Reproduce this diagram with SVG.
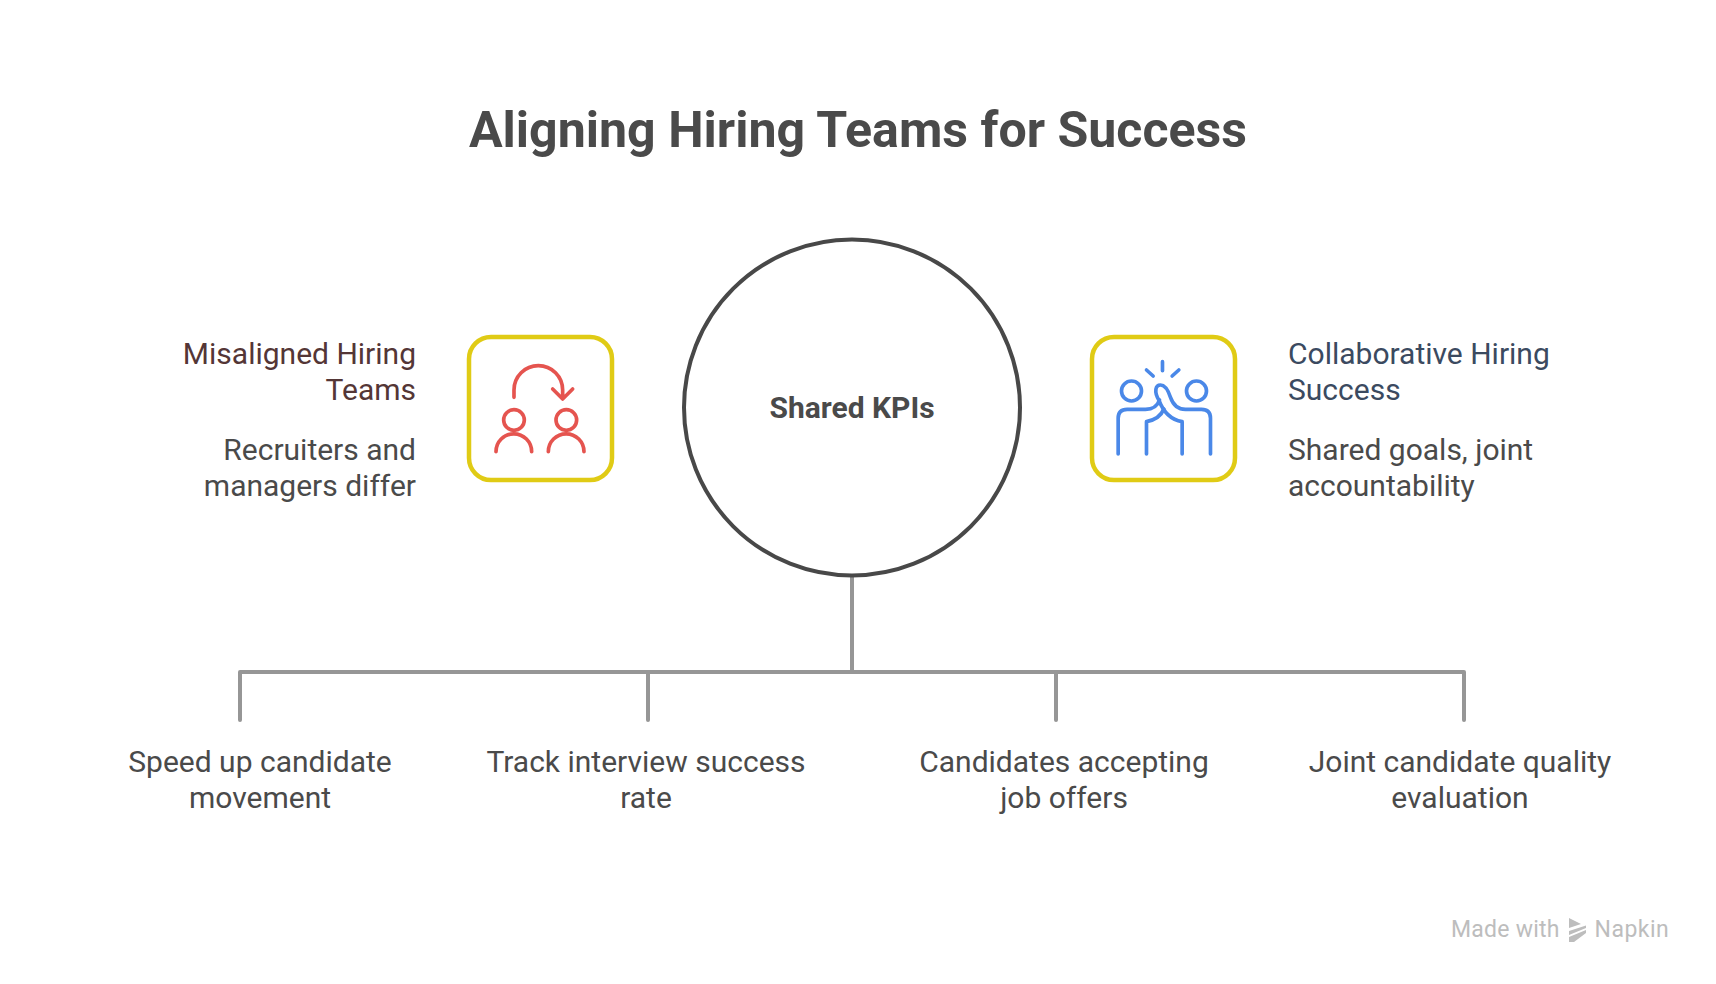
<svg xmlns="http://www.w3.org/2000/svg" width="1716" height="984" viewBox="0 0 1716 984">
<style>
text{font-family:Roboto,"Liberation Sans",sans-serif;font-size:30px;fill:#4a4a4a}
.title{font-size:50.100px;font-weight:700;text-anchor:middle}
.center{font-size:30px;font-weight:700;text-anchor:middle}
.e{text-anchor:end}
.m{text-anchor:middle}
.r{fill:#543636}
.b{fill:#3b4a60}
.box{fill:#fff;stroke:#e0cb15;stroke-width:4.500}
.conn{fill:none;stroke:#969696;stroke-width:4;stroke-linecap:round;stroke-linejoin:round}
.ic{fill:none;stroke-width:11;stroke-linecap:round;stroke-linejoin:round}
.wm{font-size:23px;fill:#bdbdbd;letter-spacing:.25px}
</style>
<rect width="1716" height="984" fill="#fff"/>
<text id="title" class="title" x="858" y="147">Aligning Hiring Teams for Success</text>
<g id="connectors">
<path class="conn" d="M852 576V672M240 720V672H1464V720M648 672V720M1056 672V720"/>
</g>
<g id="hub">
<circle cx="852" cy="407.500" r="168" fill="#fff" stroke="#484848" stroke-width="4"/>
<text class="center" x="852" y="418">Shared KPIs</text>
</g>
<g id="misaligned">
<rect class="box" x="469" y="337" width="143" height="143" rx="22"/>
<g transform="translate(440 310) scale(.3333)" class="ic" stroke="#e5544f">
<path d="M222 262V240A73 73 0 0 1 368 240V264M338 237L368 267L398 237"/>
<circle cx="222" cy="330" r="31"/><path d="M168 425A53 53 0 0 1 275 425"/>
<circle cx="379" cy="330" r="31"/><path d="M325 425A53 53 0 0 1 432 425"/>
</g>
<text class="e r" x="416" y="364">Misaligned Hiring</text>
<text class="e r" x="416" y="400">Teams</text>
<text class="e" x="416" y="460">Recruiters and</text>
<text class="e" x="416" y="496">managers differ</text>
</g>
<g id="collaborative">
<rect class="box" x="1092" y="337" width="143" height="143" rx="22"/>
<g transform="translate(1070.500 310) scale(.3333)" class="ic" stroke="#4a88e8">
<path d="M276 155V182M228 180L248 198M325 180L305 198"/>
<circle cx="183" cy="243" r="30"/><circle cx="378" cy="243" r="30"/>
<path d="M143 432V325Q143 298 170 298H225C250 298 262 285 267 270"/>
<path d="M228 432V335C262 328 275 310 280 297"/>
<path d="M420 432V325Q420 298 393 298H345C320 298 308 285 300 262C292 238 282 225 270 225C255 225 250 245 265 270C280 310 305 330 335 335V432"/>
</g>
<text class="b" x="1288" y="364">Collaborative Hiring</text>
<text class="b" x="1288" y="400">Success</text>
<text x="1288" y="460">Shared goals, joint</text>
<text x="1288" y="496">accountability</text>
</g>
<g id="kpi1"><text class="m" x="260" y="772">Speed up candidate</text><text class="m" x="260" y="808">movement</text></g>
<g id="kpi2"><text class="m" x="646" y="772">Track interview success</text><text class="m" x="646" y="808">rate</text></g>
<g id="kpi3"><text class="m" x="1064" y="772">Candidates accepting</text><text class="m" x="1064" y="808">job offers</text></g>
<g id="kpi4"><text class="m" x="1460" y="772">Joint candidate quality</text><text class="m" x="1460" y="808">evaluation</text></g>
<g id="watermark">
<text class="wm" x="1451" y="937">Made with</text>
<g fill="#bdbdbd"><path d="M1569 918L1581 924L1569 928ZM1569 931L1586 925.500V928L1569 935ZM1569 937L1586 930V933L1574 942L1569 942Z"/></g>
<text class="wm" x="1594.500" y="937" style="letter-spacing:.5px">Napkin</text>
</g>
</svg>
